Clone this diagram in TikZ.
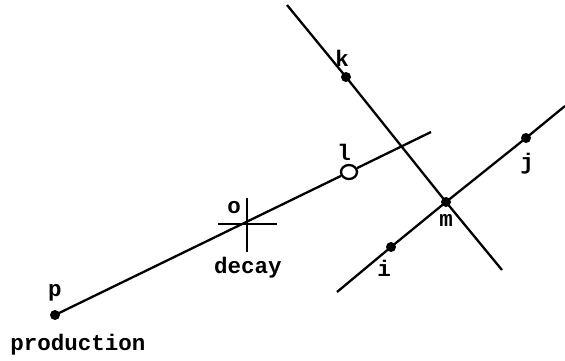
\documentclass[tikz,border=0pt]{standalone}
\usepackage{fontspec}
\setmonofont{Liberation Mono}
\usetikzlibrary{shapes.geometric}
\begin{document}
\begin{tikzpicture}[x=1pt,y=-1pt,
  track/.style={line width=2.3pt},
  dot/.style={circle,fill=black,inner sep=0pt,minimum size=10pt},
  lbl/.style={font=\ttfamily\bfseries\fontsize{22.5}{22.5}\selectfont,inner sep=0pt}]
\useasboundingbox (0,0) rectangle (565,360);
% points
\node[dot] (p) at (55,315) {};
\coordinate (pe) at (431,132);
\coordinate (o) at (247,222);
\node[draw,ellipse,line width=2.3pt,minimum width=16pt,minimum height=14pt,inner sep=0pt] (l) at (349,172) {};
\coordinate (ks) at (287,5);
\node[dot] (k) at (346,77) {};
\node[dot] (m) at (446,202) {};
\coordinate (ke) at (502,270);
\coordinate (is) at (337,292);
\node[dot] (i) at (391,247) {};
\node[dot] (j) at (526,138) {};
\coordinate (je) at (565,106);
\coordinate (ot) at (247,198);
\coordinate (ob) at (247,252);
\coordinate (ol) at (218,224);
\coordinate (or) at (277,224);
% lines
\draw[track] (p.center) -- (l) (l) -- (pe);
\draw[track] (ks) -- (k.center) -- (m.center) -- (ke);
\draw[track] (is) -- (i.center) -- (m.center) -- (j.center) -- (je);
\draw[track] (ot) -- (ob) (ol) -- (or);
% labels
\node[lbl] (tp) at (55,293) {p};
\node[lbl] (tprod) at (78,345) {production};
\node[lbl] (to) at (234,208) {o};
\node[lbl] (tdecay) at (248,268) {decay};
\node[lbl] (tl) at (344,152) {l};
\node[lbl] (tk) at (342,58) {k};
\node[lbl] (tm) at (446,220) {m};
\node[lbl] (ti) at (384,268) {i};
\node[lbl] (tj) at (527,164) {j};
\end{tikzpicture}
\end{document}
